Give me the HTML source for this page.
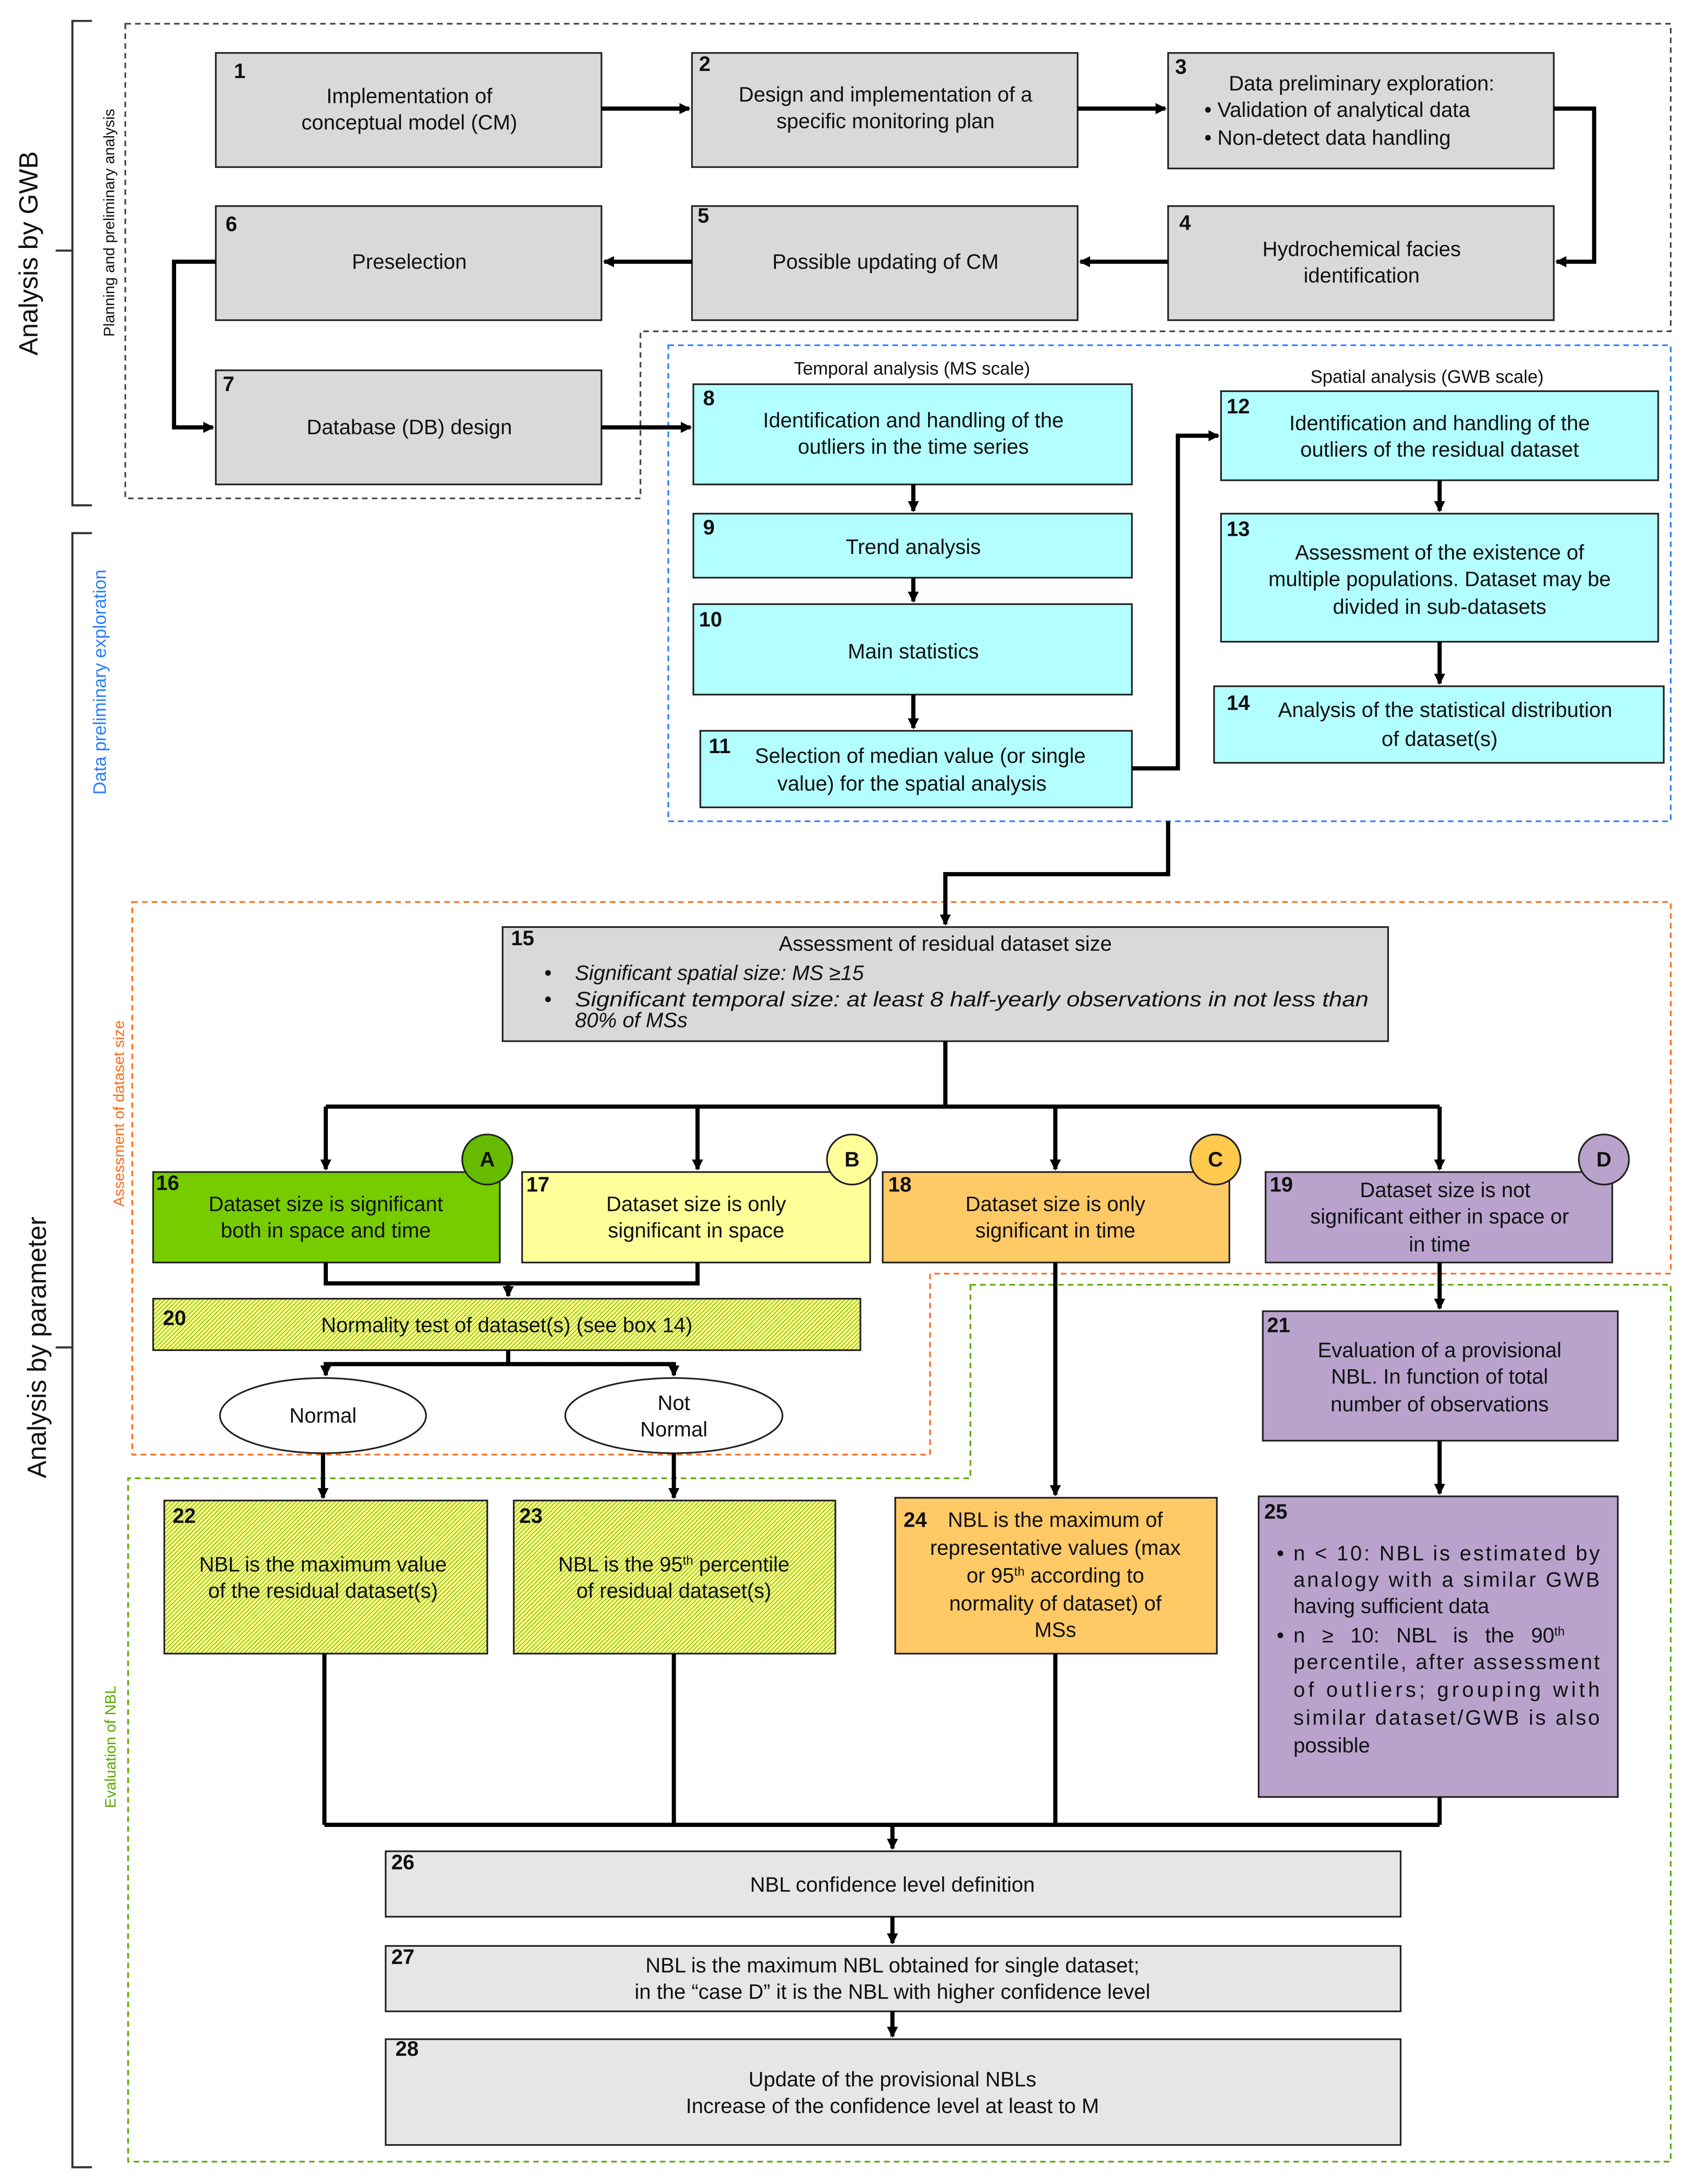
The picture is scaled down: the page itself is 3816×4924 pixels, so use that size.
<!DOCTYPE html>
<html><head><meta charset="utf-8"><style>
html,body{margin:0;padding:0;background:#fff;}
svg{display:block;}
text{font-family:"Liberation Sans","DejaVu Sans",sans-serif;font-size:15px;fill:#111;}
.n{font-size:13px;font-weight:bold;}
.c{text-anchor:middle;}
.it{font-style:italic;}
</style></head><body>
<svg xmlns="http://www.w3.org/2000/svg" width="3816" height="4924" viewBox="0 0 1216 1569">
<defs>
<marker id="ar" markerWidth="8" markerHeight="8" refX="7" refY="4" orient="auto" markerUnits="userSpaceOnUse">
<path d="M0,0 L8,4 L0,8 z" fill="#000"/></marker>
<pattern id="h" patternUnits="userSpaceOnUse" width="2.2" height="2.2" patternTransform="rotate(45)">
<rect width="2.2" height="2.2" fill="#ffff80"/><line x1="0" y1="0" x2="0" y2="2.2" stroke="#4a9a00" stroke-width="0.8"/></pattern>
</defs>
<rect width="1216" height="1569" fill="#fff"/>

<g stroke="#333" stroke-width="1.5" fill="none">
<path d="M66,15 L52,15 L52,363 L66,363"/>
<path d="M66,383 L52,383 L52,1557 L66,1557"/>
<line x1="40" y1="180" x2="52" y2="180"/>
<line x1="40" y1="968" x2="52" y2="968"/>
</g>
<text transform="translate(27,182) rotate(-90)" class="c" style="font-size:19px">Analysis by GWB</text>
<text transform="translate(33,968) rotate(-90)" class="c" style="font-size:19px">Analysis by parameter</text>
<text transform="translate(82,160) rotate(-90)" class="c" style="font-size:11px">Planning and preliminary analysis</text>
<text transform="translate(76,490) rotate(-90)" class="c" style="font-size:13px;fill:#2a7fff">Data preliminary exploration</text>
<text transform="translate(89,800) rotate(-90)" class="c" style="font-size:11px;fill:#ff6a1a">Assessment of dataset size</text>
<text transform="translate(83,1255) rotate(-90)" class="c" style="font-size:11px;fill:#5aa800">Evaluation of NBL</text>

<g fill="none" stroke-width="1.2" stroke-dasharray="4,3">
<path d="M90,17 L1200,17 L1200,238 L460,238 L460,358 L90,358 Z" stroke="#444"/>
<rect x="480" y="248" width="720" height="342" stroke="#2a7fff"/>
<path d="M95,648 L1200,648 L1200,915 L668,915 L668,1045 L95,1045 Z" stroke="#ff6a1a"/>
<path d="M697,923 L1200,923 L1200,1553 L92,1553 L92,1062 L697,1062 Z" stroke="#5aa800"/>
</g>

<g fill="#d9d9d9" stroke="#222" stroke-width="1.2">
<rect x="155" y="38" width="277" height="82"/>
<rect x="497" y="38" width="277" height="82"/>
<rect x="839" y="38" width="277" height="83"/>
<rect x="839" y="148" width="277" height="82"/>
<rect x="497" y="148" width="277" height="82"/>
<rect x="155" y="148" width="277" height="82"/>
<rect x="155" y="266" width="277" height="82"/>
<rect x="361" y="666" width="636" height="82"/>
<rect x="277" y="1330" width="729" height="47" fill="#e6e6e6"/>
<rect x="277" y="1398" width="729" height="47" fill="#e6e6e6"/>
<rect x="277" y="1465" width="729" height="76" fill="#e6e6e6"/>
</g>
<g fill="#b3ffff" stroke="#222" stroke-width="1.2">
<rect x="498" y="276" width="315" height="72"/>
<rect x="498" y="369" width="315" height="46"/>
<rect x="498" y="434" width="315" height="65"/>
<rect x="503" y="525" width="310" height="55"/>
<rect x="877" y="281" width="314" height="64"/>
<rect x="877" y="369" width="314" height="92"/>
<rect x="872" y="493" width="323" height="55"/>
</g>
<g stroke="#222" stroke-width="1.2">
<rect x="110" y="842" width="249" height="65" fill="#77cc00"/>
<rect x="375" y="842" width="250" height="65" fill="#ffff99"/>
<rect x="634" y="842" width="249" height="65" fill="#ffc966"/>
<rect x="909" y="842" width="249" height="65" fill="#b9a3cd"/>
<rect x="110" y="933" width="508" height="37" fill="url(#h)"/>
<rect x="118" y="1078" width="232" height="110" fill="url(#h)"/>
<rect x="369" y="1078" width="231" height="110" fill="url(#h)"/>
<rect x="643" y="1076" width="231" height="112" fill="#ffc966"/>
<rect x="907" y="942" width="255" height="93" fill="#b9a3cd"/>
<rect x="904" y="1075" width="258" height="216" fill="#b9a3cd"/>
<circle cx="350" cy="833" r="18" fill="#66bb00"/>
<circle cx="612" cy="833" r="18" fill="#ffff99"/>
<circle cx="873" cy="833" r="18" fill="#ffc94d"/>
<circle cx="1152" cy="833" r="18" fill="#b9a3cd"/>
<ellipse cx="232" cy="1017" rx="74" ry="27" fill="#fff"/>
<ellipse cx="484" cy="1017" rx="78" ry="27" fill="#fff"/>
</g>
<g style="font-size:13px;font-weight:bold">
<text x="350" y="838" class="c">A</text><text x="612" y="838" class="c">B</text>
<text x="873" y="838" class="c">C</text><text x="1152" y="838" class="c">D</text>
</g>

<g stroke="#000" stroke-width="3" fill="none" marker-end="url(#ar)">
<line x1="432" y1="78" x2="495" y2="78"/>
<line x1="774" y1="78" x2="837" y2="78"/>
<path d="M1116,78 L1145,78 L1145,188 L1118,188"/>
<line x1="839" y1="188" x2="776" y2="188"/>
<line x1="497" y1="188" x2="434" y2="188"/>
<path d="M155,188 L125,188 L125,307 L153,307"/>
<line x1="432" y1="307" x2="496" y2="307"/>
<line x1="656" y1="348" x2="656" y2="367"/>
<line x1="656" y1="415" x2="656" y2="432"/>
<line x1="656" y1="499" x2="656" y2="523"/>
<path d="M813,552 L846,552 L846,313 L875,313"/>
<line x1="1034" y1="345" x2="1034" y2="367"/>
<line x1="1034" y1="461" x2="1034" y2="491"/>
<path d="M839,590 L839,628 L679,628 L679,664"/>
<line x1="234" y1="795" x2="234" y2="840"/>
<line x1="501" y1="795" x2="501" y2="840"/>
<line x1="758" y1="795" x2="758" y2="840"/>
<line x1="1034" y1="795" x2="1034" y2="840"/>
<line x1="365" y1="922" x2="365" y2="931"/>
<path d="M365,980 L234,980 L234,988"/>
<path d="M365,980 L484,980 L484,988"/>
<line x1="232" y1="1044" x2="232" y2="1076"/>
<line x1="484" y1="1044" x2="484" y2="1076"/>
<line x1="758" y1="907" x2="758" y2="1074"/>
<line x1="1034" y1="907" x2="1034" y2="940"/>
<line x1="1034" y1="1035" x2="1034" y2="1073"/>
<line x1="641" y1="1311" x2="641" y2="1328"/>
<line x1="641" y1="1377" x2="641" y2="1396"/>
<line x1="641" y1="1445" x2="641" y2="1463"/>
</g>
<g stroke="#000" stroke-width="3" fill="none">
<path d="M679,748 L679,795"/>
<line x1="234" y1="795" x2="1034" y2="795"/>
<path d="M234,907 L234,922 L501,922 L501,907"/>
<line x1="365" y1="970" x2="365" y2="980"/>
<line x1="233" y1="1188" x2="233" y2="1311"/>
<line x1="484" y1="1188" x2="484" y2="1311"/>
<line x1="758" y1="1188" x2="758" y2="1311"/>
<line x1="1034" y1="1291" x2="1034" y2="1311"/>
<line x1="233" y1="1311" x2="1034" y2="1311"/>
</g>

<g class="n">
<text x="168" y="56">1</text><text x="502" y="51">2</text><text x="844" y="53">3</text>
<text x="847" y="165">4</text><text x="501" y="160">5</text><text x="162" y="166">6</text>
<text x="160" y="281">7</text><text x="505" y="291">8</text><text x="505" y="384">9</text>
<text x="502" y="450">10</text><text x="509" y="541">11</text><text x="881" y="297">12</text>
<text x="881" y="385">13</text><text x="881" y="510">14</text><text x="367" y="679">15</text>
<text x="112" y="855">16</text><text x="378" y="856">17</text><text x="638" y="856">18</text>
<text x="912" y="856">19</text><text x="117" y="952">20</text><text x="910" y="957">21</text>
<text x="124" y="1094">22</text><text x="373" y="1094">23</text><text x="649" y="1097">24</text>
<text x="908" y="1091">25</text><text x="281" y="1343">26</text><text x="281" y="1411">27</text>
<text x="284" y="1477">28</text>
</g>

<g>
<text x="294" y="74" class="c">Implementation of</text>
<text x="294" y="93" class="c">conceptual model (CM)</text>
<text x="636" y="73" class="c">Design and implementation of a</text>
<text x="636" y="92" class="c">specific monitoring plan</text>
<text x="978" y="65" class="c">Data preliminary exploration:</text>
<text x="865" y="84">•  Validation of analytical data</text>
<text x="865" y="104">•  Non-detect data handling</text>
<text x="978" y="184" class="c">Hydrochemical facies</text>
<text x="978" y="203" class="c">identification</text>
<text x="636" y="193" class="c">Possible updating of CM</text>
<text x="294" y="193" class="c">Preselection</text>
<text x="294" y="312" class="c">Database (DB) design</text>
<text x="655" y="269" class="c" style="font-size:13px">Temporal analysis (MS scale)</text>
<text x="1025" y="275" class="c" style="font-size:13px">Spatial analysis (GWB scale)</text>
<text x="656" y="307" class="c">Identification and handling of the</text>
<text x="656" y="326" class="c">outliers in the time series</text>
<text x="656" y="398" class="c">Trend analysis</text>
<text x="656" y="473" class="c">Main statistics</text>
<text x="661" y="548" class="c">Selection of median value (or single</text>
<text x="655" y="568" class="c">value) for the spatial analysis</text>
<text x="1034" y="309" class="c">Identification and handling of the</text>
<text x="1034" y="328" class="c">outliers of the residual dataset</text>
<text x="1034" y="402" class="c">Assessment of the existence of</text>
<text x="1034" y="421" class="c">multiple populations. Dataset may be</text>
<text x="1034" y="441" class="c">divided in sub-datasets</text>
<text x="1038" y="515" class="c">Analysis of the statistical distribution</text>
<text x="1034" y="536" class="c">of dataset(s)</text>
<text x="679" y="683" class="c">Assessment of residual dataset size</text>
<text x="391" y="704">•</text>
<text x="413" y="704" class="it">Significant spatial size: MS ≥15</text>
<text x="391" y="723">•</text>
<text x="413" y="723" class="it" textLength="570" lengthAdjust="spacingAndGlyphs">Significant temporal size: at least 8 half-yearly observations in not less than</text>
<text x="413" y="738" class="it">80% of MSs</text>
<text x="234" y="870" class="c">Dataset size is significant</text>
<text x="234" y="889" class="c">both in space and time</text>
<text x="500" y="870" class="c">Dataset size is only</text>
<text x="500" y="889" class="c">significant in space</text>
<text x="758" y="870" class="c">Dataset size is only</text>
<text x="758" y="889" class="c">significant in time</text>
<text x="1038" y="860" class="c">Dataset size is not</text>
<text x="1034" y="879" class="c">significant either in space or</text>
<text x="1034" y="899" class="c">in time</text>
<text x="364" y="957" class="c">Normality test of dataset(s) (see box 14)</text>
<text x="232" y="1022" class="c">Normal</text>
<text x="484" y="1013" class="c">Not</text>
<text x="484" y="1032" class="c">Normal</text>
<text x="1034" y="975" class="c">Evaluation of a provisional</text>
<text x="1034" y="994" class="c">NBL. In function of total</text>
<text x="1034" y="1014" class="c">number of observations</text>
<text x="232" y="1129" class="c">NBL is the maximum value</text>
<text x="232" y="1148" class="c">of the residual dataset(s)</text>
<text x="484" y="1129" class="c">NBL is the 95<tspan dy="-5" style="font-size:9px">th</tspan><tspan dy="5"> percentile</tspan></text>
<text x="484" y="1148" class="c">of residual dataset(s)</text>
<text x="758" y="1097" class="c">NBL is the maximum of</text>
<text x="758" y="1117" class="c">representative values (max</text>
<text x="758" y="1137" class="c">or 95<tspan dy="-5" style="font-size:9px">th</tspan><tspan dy="5"> according to</tspan></text>
<text x="758" y="1157" class="c">normality of dataset) of</text>
<text x="758" y="1176" class="c">MSs</text>
<text x="641" y="1359" class="c">NBL confidence level definition</text>
<text x="641" y="1417" class="c">NBL is the maximum NBL obtained for single dataset;</text>
<text x="641" y="1436" class="c">in the “case D” it is the NBL with higher confidence level</text>
<text x="641" y="1499" class="c">Update of the provisional NBLs</text>
<text x="641" y="1518" class="c">Increase of the confidence level at least to M</text>
</g>
<text x="917" y="1121">•</text>
<text x="929" y="1121" textLength="220" lengthAdjust="spacing">n &lt; 10: NBL is estimated by</text>
<text x="929" y="1140" textLength="220" lengthAdjust="spacing">analogy with a similar GWB</text>
<text x="929" y="1159">having sufficient data</text>
<text x="917" y="1180">•</text>
<text x="929" y="1180" style="word-spacing:8px">n ≥ 10: NBL is the 90<tspan dy="-5" style="font-size:9px">th</tspan></text>
<text x="929" y="1199" textLength="220" lengthAdjust="spacing">percentile, after assessment</text>
<text x="929" y="1219" textLength="220" lengthAdjust="spacing">of outliers; grouping with</text>
<text x="929" y="1239" textLength="220" lengthAdjust="spacing">similar dataset/GWB is also</text>
<text x="929" y="1259">possible</text>
</svg>
</body></html>
